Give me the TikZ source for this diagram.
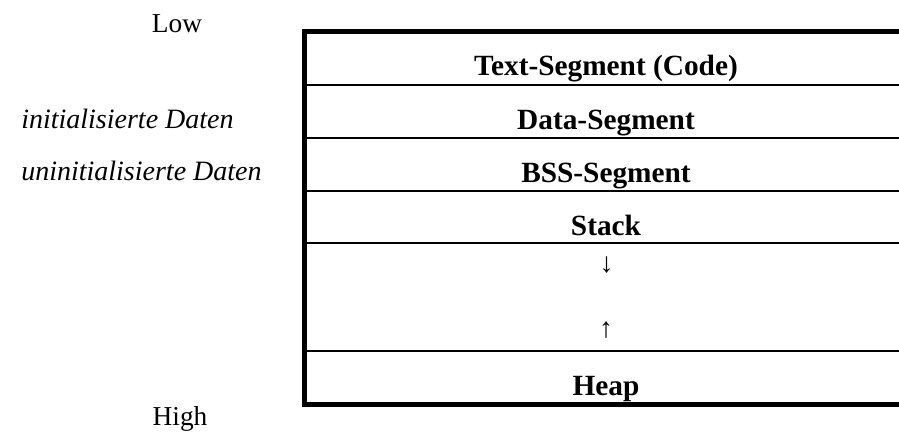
\documentclass[tikz,border=0pt]{standalone}
\usepackage{fontspec}
\setmainfont{Liberation Serif}
\begin{document}
\begin{tikzpicture}[x=0.75pt,y=-0.75pt,
  seg/.style={font=\fontsize{22}{26}\selectfont\bfseries, anchor=base, inner sep=0pt},
  side/.style={font=\fontsize{21}{25}\selectfont\itshape, anchor=base west, inner sep=0pt},
  addr/.style={font=\fontsize{20.5}{25}\selectfont, anchor=base, inner sep=0pt},
  arr/.style={font=\fontsize{21}{25}\selectfont, inner sep=0pt},
  sepline/.style={line width=1.5pt},
  frameline/.style={line width=3.6pt}]
\useasboundingbox (0,0) rectangle (899,432);
% separators
\draw[sepline] (304,85) -- (899,85);
\draw[sepline] (304,138) -- (899,138);
\draw[sepline] (304,191) -- (899,191);
\draw[sepline] (304,243) -- (899,243);
\draw[sepline] (304,351) -- (899,351);
% frame
\draw[frameline] (899,31.5) -- (304.3,31.5) -- (304.3,404.2) -- (899,404.2);
% segment labels
\node[seg] (text) at (606,75.5) {Text-Segment (Code)};
\node[seg] (data) at (606,129) {Data-Segment};
\node[seg] (bss) at (606,182.5) {BSS-Segment};
\node[seg] (stack) at (606,235.5) {Stack};
\node[arr] (down) at (606.5,265) {↓};
\node[arr] (up) at (606,330) {↑};
\node[seg] (heap) at (606,395) {Heap};
% side labels
\node[addr] (low) at (177,32) {Low};
\node[addr] (high) at (180,425) {High};
\node[side] (init) at (21,128.5) {initialisierte Daten};
\node[side] (uninit) at (21,180.5) {uninitialisierte Daten};
\end{tikzpicture}
\end{document}
